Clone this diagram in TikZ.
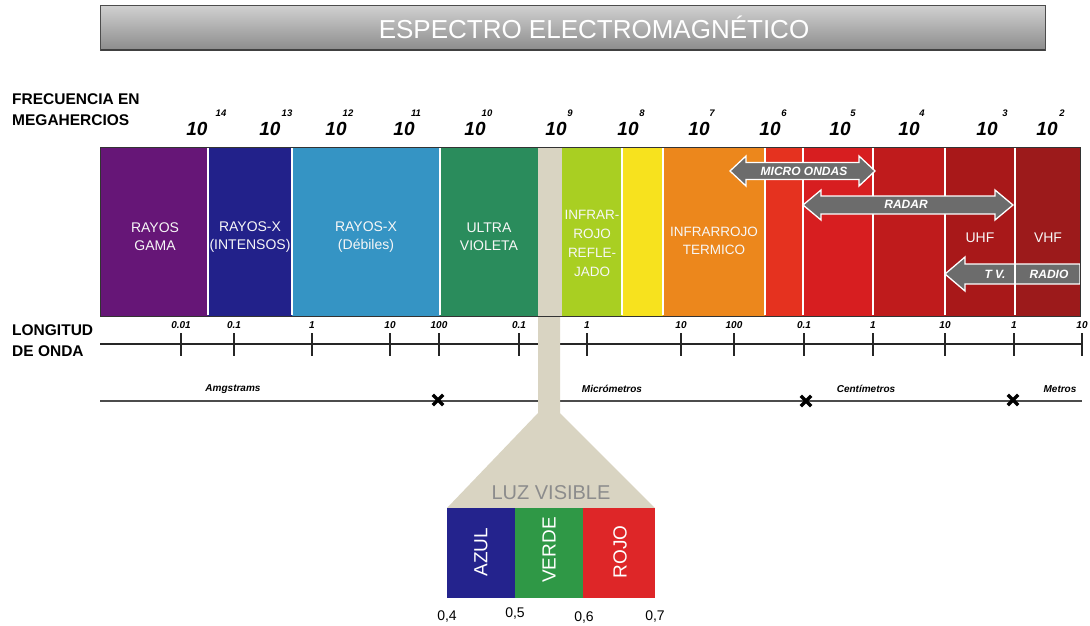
\documentclass[tikz,border=0pt]{standalone}
\usepackage{fontspec}
\setmainfont{Liberation Sans}
\usetikzlibrary{shapes.misc}
\definecolor{cPurple}{HTML}{661677}
\definecolor{cDBlue}{HTML}{22218A}
\definecolor{cLBlue}{HTML}{3594C4}
\definecolor{cGreen}{HTML}{2A8C5C}
\definecolor{cBeige}{HTML}{D9D4C2}
\definecolor{cYGreen}{HTML}{A9CF22}
\definecolor{cYellow}{HTML}{F7E21E}
\definecolor{cOrange}{HTML}{EC871C}
\definecolor{cROrange}{HTML}{E5321F}
\definecolor{cRed}{HTML}{D71E20}
\definecolor{cRed2}{HTML}{BF1B1C}
\definecolor{cRed3}{HTML}{A81819}
\definecolor{cRed4}{HTML}{9C1A1B}
\definecolor{vBlue}{HTML}{24238D}
\definecolor{vGreen}{HTML}{2F9846}
\definecolor{vRed}{HTML}{DE2628}
\definecolor{arrowGray}{HTML}{6C6C6C}
\begin{document}
\begin{tikzpicture}[x=1pt,y=-1pt,
  bandlbl/.style={text=white!94!gray, font=\fontsize{14}{18}\selectfont, align=center, inner sep=0},
  headlbl/.style={font=\bfseries\fontsize{15.5}{21}\selectfont, align=left, anchor=west, inner sep=0},
  powlbl/.style={font=\bfseries\itshape\fontsize{19}{19}\selectfont, inner sep=0},
  expolbl/.style={font=\bfseries\itshape\fontsize{9.5}{9.5}\selectfont, inner sep=0},
  ticklbl/.style={font=\bfseries\itshape\fontsize{10}{10}\selectfont, inner sep=0},
  unitlbl/.style={font=\bfseries\itshape\fontsize{10}{10}\selectfont, inner sep=0},
  sepline/.style={white, line width=1.8pt},
  arrowbody/.style={fill=arrowGray, draw=white, line width=1.3pt, line join=miter},
  arrowtxt/.style={text=white, font=\bfseries\itshape\fontsize{12}{12}\selectfont, inner sep=0},
  xmark/.style={cross out, draw=black, line width=3.4pt, minimum size=7pt, inner sep=0},
  vislbl/.style={text=white, font=\fontsize{19}{19}\selectfont, rotate=90, inner sep=0},
  numlbl/.style={font=\fontsize{14}{14}\selectfont, inner sep=0}
]
\useasboundingbox (0,0) rectangle (1090,625);
\fill[white] (0,0) rectangle (1090,625);

% title bar
\shade[top color=black!18, bottom color=black!45, draw=black!70, line width=1pt] (100,5) rectangle (1045,50);
\draw[black!75, line width=1.5pt] (101,50) -- (1045,50);
\node[text=white, font=\fontsize{26}{26}\selectfont, inner sep=0] (title) at (594,27) {ESPECTRO ELECTROMAGNÉTICO};

% frequency header
\node[headlbl] (frec) at (12,110) {FRECUENCIA EN\\MEGAHERCIOS};
\foreach \xa/\xb/\e [count=\i] in {197/221/14, 270/287/13, 336/348/12, 404/416/11, 475/487/10, 556/570/9, 628/642/8, 699/712/7, 770/784/6, 840/853/5, 909/922/4, 987/1005/3, 1047/1062/2}{
  \node[powlbl] (p\i) at (\xa,129) {10};
  \node[expolbl] (e\i) at (\xb,113) {\e};
}

% spectrum bands
\fill[cPurple] (100,147) rectangle (208,316);
\fill[cDBlue] (208,147) rectangle (292,316);
\fill[cLBlue] (292,147) rectangle (440,316);
\fill[cGreen] (440,147) rectangle (538,316);
\fill[cBeige] (538,147) rectangle (562,316);
\fill[cYGreen] (562,147) rectangle (622,316);
\fill[cYellow] (622,147) rectangle (663,316);
\fill[cOrange] (663,147) rectangle (765,316);
\fill[cROrange] (765,147) rectangle (803,316);
\fill[cRed] (803,147) rectangle (873,316);
\fill[cRed2] (873,147) rectangle (945,316);
\fill[cRed3] (945,147) rectangle (1015,316);
\fill[cRed4] (1015,147) rectangle (1080,316);

% separators
\foreach \x in {208,292,440,622,663,765,803,873,945}{
  \draw[sepline] (\x,148) -- (\x,315);
}

% T.V. / RADIO arrow
\draw[arrowbody] (945,274) -- (965,257) -- (965,264) -- (1080,264) -- (1080,284) -- (965,284) -- (965,291) -- cycle;
\draw[sepline] (1015,148) -- (1015,315);

% band outline
\draw[black!80, line width=1pt] (100,147) rectangle (1080,316);

% micro ondas arrow
\draw[arrowbody] (730,171) -- (746,156) -- (746,162.5) -- (859,162.5) -- (859,156) -- (875,171) -- (859,186) -- (859,179.5) -- (746,179.5) -- (746,186) -- cycle;
% radar arrow
\draw[arrowbody] (803,205) -- (821,190) -- (821,196) -- (995,196) -- (995,190) -- (1013,205) -- (995,220) -- (995,214) -- (821,214) -- (821,220) -- cycle;

\node[arrowtxt] (mo) at (804,171) {MICRO ONDAS};
\node[arrowtxt] (radar) at (906,204) {RADAR};
\node[arrowtxt] (tv) at (995,274) {T V.};
\node[arrowtxt] (radio) at (1049,274) {RADIO};

% band labels
\node[bandlbl] (gama) at (155,237) {RAYOS\\GAMA};
\node[bandlbl] (xint) at (250,237) {RAYOS-X\\(INTENSOS)};
\node[bandlbl] (xdeb) at (366,237) {RAYOS-X\\(Débiles)};
\node[bandlbl] (uv) at (489,237) {ULTRA\\VIOLETA};
\node[bandlbl, font=\fontsize{13.5}{19}\selectfont] (irr) at (592,243) {INFRAR-\\ROJO\\REFLE-\\JADO};
\node[bandlbl, font=\fontsize{13.5}{18}\selectfont] (irt) at (714,241) {INFRARROJO\\TERMICO};
\node[bandlbl] (uhf) at (980,238) {UHF};
\node[bandlbl] (vhf) at (1048,238) {VHF};

% wavelength
\node[headlbl] (long) at (12,341) {LONGITUD\\DE ONDA};
\draw[black!85, line width=1.2pt] (100,344) coordinate (wl0) -- (1082,344) coordinate (wl1);
\foreach \x/\l [count=\i] in {181/0.01, 234/0.1, 312/1, 390/10, 439/100, 519/0.1, 587/1, 681/10, 734/100, 804/0.1, 873/1, 945/10, 1014/1, 1082/10}{
  \draw[black!85, line width=1.2pt] (\x,333) -- (\x,356);
  \node[ticklbl] (t\i) at (\x,325) {\l};
}
\draw[black!70, line width=1.2pt] (100,401) coordinate (u0) -- (1082,401) coordinate (u1);
\node[unitlbl] (ang) at (233,389) {Amgstrams};
\node[unitlbl] (mic) at (612,389) {Micrómetros};
\node[unitlbl] (cen) at (866,389) {Centímetros};
\node[unitlbl] (met) at (1060,389) {Metros};
\node[xmark] (x1) at (438,400) {};
\node[xmark] (x2) at (806,401) {};
\node[xmark] (x3) at (1013,400) {};

% visible light funnel
\fill[cBeige] (538,317) -- (560,317) -- (560,413) -- (655,508) -- (447,508) -- (538,413) -- cycle;
\node[text=black!45, font=\fontsize{20}{20}\selectfont, inner sep=0] (luz) at (551,493) {LUZ VISIBLE};

\fill[vBlue] (447,508) rectangle (515,598);
\fill[vGreen] (515,508) rectangle (583,598);
\fill[vRed] (583,508) rectangle (655,598);
\node[vislbl] (azul) at (481,552) {AZUL};
\node[vislbl] (verde) at (549,550) {VERDE};
\node[vislbl] (rojo) at (620,552) {ROJO};

\node[numlbl] (n4) at (447,616) {0,4};
\node[numlbl] (n5) at (515,613) {0,5};
\node[numlbl] (n6) at (584,617) {0,6};
\node[numlbl] (n7) at (655,616) {0,7};
\end{tikzpicture}
\end{document}
